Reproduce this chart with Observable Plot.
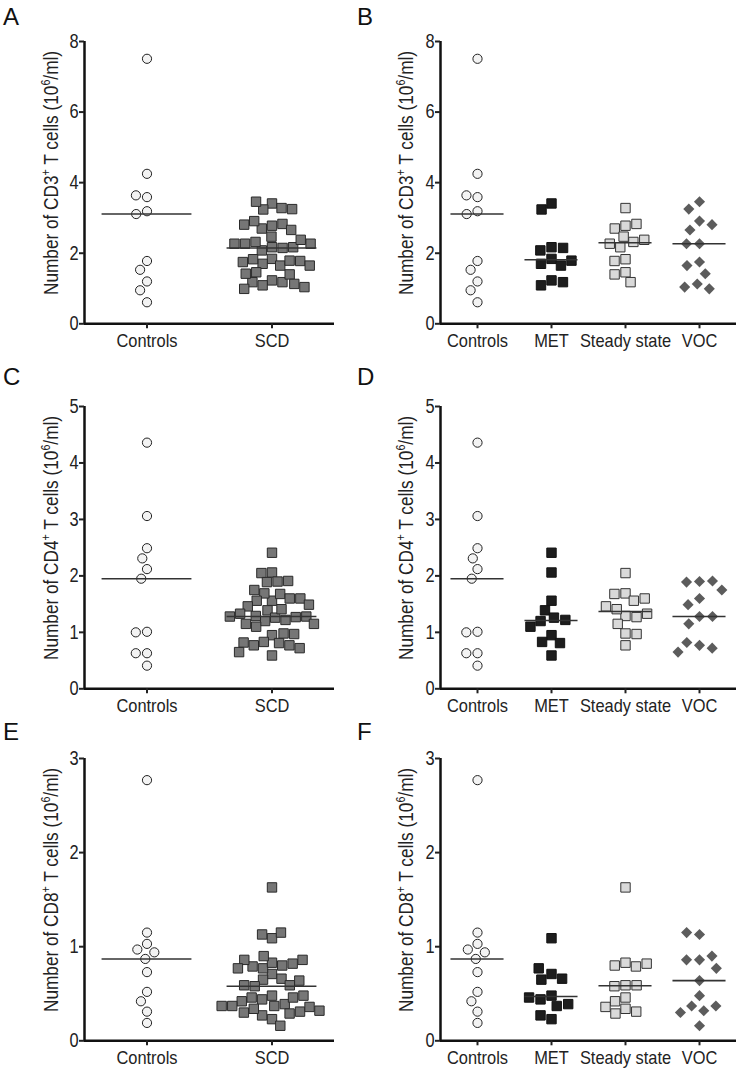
<!DOCTYPE html>
<html><head><meta charset="utf-8">
<script src="https://cdn.jsdelivr.net/npm/d3@7"></script>
<script src="https://cdn.jsdelivr.net/npm/@observablehq/plot@0.6"></script>
<style>
body{margin:0;background:#fff;}
#fig{position:relative;width:750px;height:1077px;overflow:hidden;font-family:"Liberation Sans",Arial,sans-serif;color:#222;}
.panel{position:absolute;}
.letter{position:absolute;font-family:"Liberation Sans",Arial,sans-serif;font-size:24px;line-height:1;color:#111;}
.ylab{position:absolute;white-space:nowrap;font-size:21px;line-height:1;transform:translate(-50%,-50%) rotate(-90deg) scale(0.82,1);}
.ylab sup{font-size:0.62em;vertical-align:0.6em;line-height:0;}
</style></head><body><div id="fig"></div>
<script>
// ---- data (10^6 cells/ml) ----
const cd3Controls = [7.51, 4.25, 3.59, 3.64, 3.19, 3.11, 1.78, 1.53, 1.20, 0.95, 0.61];
const cd3MET      = [3.41, 3.24, 2.17, 2.08, 2.15, 1.84, 1.70, 1.65, 1.79, 1.23, 1.09, 1.18];
const cd3Steady   = [3.28, 2.78, 2.70, 2.83, 2.47, 2.32, 2.17, 2.27, 2.38, 1.83, 1.78, 1.46, 1.40, 1.18];
const cd3VOC      = [3.46, 3.25, 2.91, 2.66, 2.81, 2.27, 2.27, 1.75, 1.65, 1.42, 1.13, 0.99, 1.04];

const cd4Controls = [4.36, 3.06, 2.49, 2.31, 2.12, 1.95, 1.01, 1.00, 0.63, 0.63, 0.41];
const cd4MET      = [2.41, 2.06, 1.56, 1.39, 1.26, 1.20, 1.22, 1.10, 0.95, 0.83, 0.81, 0.59];
const cd4Steady   = [2.05, 1.69, 1.68, 1.56, 1.60, 1.29, 1.41, 1.46, 1.27, 1.33, 1.15, 0.98, 0.97, 0.77];
const cd4VOC      = [1.90, 1.89, 1.91, 1.75, 1.60, 1.49, 1.28, 1.28, 1.15, 0.77, 0.82, 0.72, 0.65];

const cd8Controls = [2.77, 1.15, 1.03, 0.97, 0.94, 0.87, 0.73, 0.52, 0.42, 0.31, 0.19];
const cd8MET      = [1.09, 0.71, 0.65, 0.66, 0.77, 0.48, 0.44, 0.37, 0.39, 0.46, 0.23, 0.27];
const cd8Steady   = [1.63, 0.83, 0.80, 0.79, 0.82, 0.59, 0.58, 0.59, 0.46, 0.42, 0.34, 0.29, 0.31, 0.36];
const cd8VOC      = [1.13, 1.15, 0.86, 0.86, 0.90, 0.77, 0.64, 0.48, 0.37, 0.32, 0.37, 0.30, 0.16];

const groupNames = ["Controls", "SCD", "MET", "Steady state", "VOC"];
const panelLetters = ["A", "B", "C", "D", "E", "F"];
const cellTypes = ["CD3", "CD4", "CD8"];
const yMaxes = [8, 5, 3];
const yTickSets = [[0, 2, 4, 6, 8], [0, 1, 2, 3, 4, 5], [0, 1, 2, 3]];

// ---- styles ----
const groupStyle = {
  "Controls":     {symbol: "circle",   r: 4.6, fill: "#f3f3f3", stroke: "#222", strokeWidth: 1, pad: 2},
  "SCD":          {symbol: "square",   r: 5.3, fill: "#767676", stroke: "#2a2a2a", strokeWidth: 1, pad: 0},
  "MET":          {symbol: "square",   r: 5.3, fill: "#1d1d1d", stroke: "#111", strokeWidth: 1, pad: 1},
  "Steady state": {symbol: "square",   r: 5.3, fill: "#d9d9d9", stroke: "#333", strokeWidth: 1, pad: 0.5},
  "VOC":          {symbol: "diamond2", r: 5.0, fill: "#5c5c5c", stroke: "none", strokeWidth: 0, pad: 3}
};
const FONT = '"Liberation Sans",Arial,sans-serif';

const fig = document.getElementById("fig");

function makePanel(cfg) {
  const cats = cfg.groups.map(g => g.name);
  const rows = [];
  cfg.groups.forEach(g => g.values.forEach(v => rows.push({group: g.name, value: v})));
  const band = (cfg.width - cfg.marginLeft - cfg.marginRight) / cats.length;
  const inset = band * 0.14;
  const marks = [
    Plot.ruleY([0], {stroke: "#111", strokeWidth: 2.5}),
    Plot.ruleX([cats[0]], {fx: d => d, x: () => 0, y1: 0, y2: cfg.yMax, stroke: "#111", strokeWidth: 2.5}),
    Plot.axisY({ticks: cfg.ticks, tickSize: 5, tickPadding: 1, strokeWidth: 2, label: null, fontSize: 20, tickFormat: d => String(d)}),
    Plot.axisFx({anchor: "bottom", tickSize: 5, tickPadding: 5, strokeWidth: 2, label: null, fontSize: 18.5})
  ];
  cfg.groups.forEach(g => {
    const s = groupStyle[g.name];
    marks.push(Plot.dot(rows.filter(d => d.group === g.name), Plot.dodgeX({anchor: "middle", padding: s.pad}, {
      y: "value", fx: "group", r: s.r, symbol: s.symbol, fill: s.fill, stroke: s.stroke, strokeWidth: s.strokeWidth
    })));
  });
  marks.push(Plot.tickY(rows, Plot.groupZ({y: "median"}, {y: "value", fx: "group", stroke: "#333", strokeWidth: 1.6, insetLeft: inset, insetRight: inset})));
  const svg = Plot.plot({
    width: cfg.width, height: 360,
    marginLeft: cfg.marginLeft, marginRight: cfg.marginRight, marginTop: 41, marginBottom: 36.7,
    style: {fontFamily: FONT, fontSize: "20px", color: "#222", background: "transparent", overflow: "visible"},
    fx: {domain: cats, padding: 0, label: null},
    x: {domain: [0, 1], axis: null},
    y: {domain: [0, cfg.yMax], label: null},
    marks
  });
  const wrap = document.createElement("div");
  wrap.className = "panel";
  wrap.style.left = cfg.left + "px";
  wrap.style.top = cfg.top + "px";
  wrap.appendChild(svg);
  fig.appendChild(wrap);
  // condensed lettering like the original (no narrow font installed)
  svg.querySelectorAll("text").forEach(t => {
    const L = t.getComputedTextLength();
    const fs = parseFloat(getComputedStyle(t).fontSize) || 20;
    if (L > 0) {
      t.setAttribute("textLength", (L * 0.82 * 20 / fs).toFixed(2));
      t.setAttribute("lengthAdjust", "spacingAndGlyphs");
    }
  });

  const lab = document.createElement("div");
  lab.className = "ylab";
  lab.style.left = (cfg.left + cfg.marginLeft - 33) + "px";
  lab.style.top = (cfg.top + 173) + "px";
  lab.innerHTML = "Number of " + cfg.cell + "<sup>+</sup> T cells (10<sup>6</sup>/ml)";
  fig.appendChild(lab);

  const let_ = document.createElement("div");
  let_.className = "letter";
  let_.textContent = cfg.letter;
  let_.style.left = (cfg.left + cfg.letterX) + "px";
  let_.style.top = cfg.letterTop + "px";
  fig.appendChild(let_);
}

const datasets = [
  {controls: cd3Controls, met: cd3MET, steady: cd3Steady, voc: cd3VOC},
  {controls: cd4Controls, met: cd4MET, steady: cd4Steady, voc: cd4VOC},
  {controls: cd8Controls, met: cd8MET, steady: cd8Steady, voc: cd8VOC}
];
const rowTops = [0, 365, 717];
const letterTops = [5, 365, 720];

datasets.forEach((ds, i) => {
  const scd = ds.met.concat(ds.steady, ds.voc);
  makePanel({
    letter: panelLetters[2 * i], letterX: 3, letterTop: letterTops[i],
    cell: cellTypes[i], yMax: yMaxes[i], ticks: yTickSets[i],
    left: 0, top: rowTops[i], width: 375, marginLeft: 83, marginRight: 41,
    groups: [{name: groupNames[0], values: ds.controls}, {name: groupNames[1], values: scd}]
  });
  makePanel({
    letter: panelLetters[2 * i + 1], letterX: -18, letterTop: letterTops[i],
    cell: cellTypes[i], yMax: yMaxes[i], ticks: yTickSets[i],
    left: 375, top: rowTops[i], width: 375, marginLeft: 63, marginRight: 13,
    groups: [{name: groupNames[0], values: ds.controls}, {name: groupNames[2], values: ds.met},
             {name: groupNames[3], values: ds.steady}, {name: groupNames[4], values: ds.voc}]
  });
});
</script></body></html>
